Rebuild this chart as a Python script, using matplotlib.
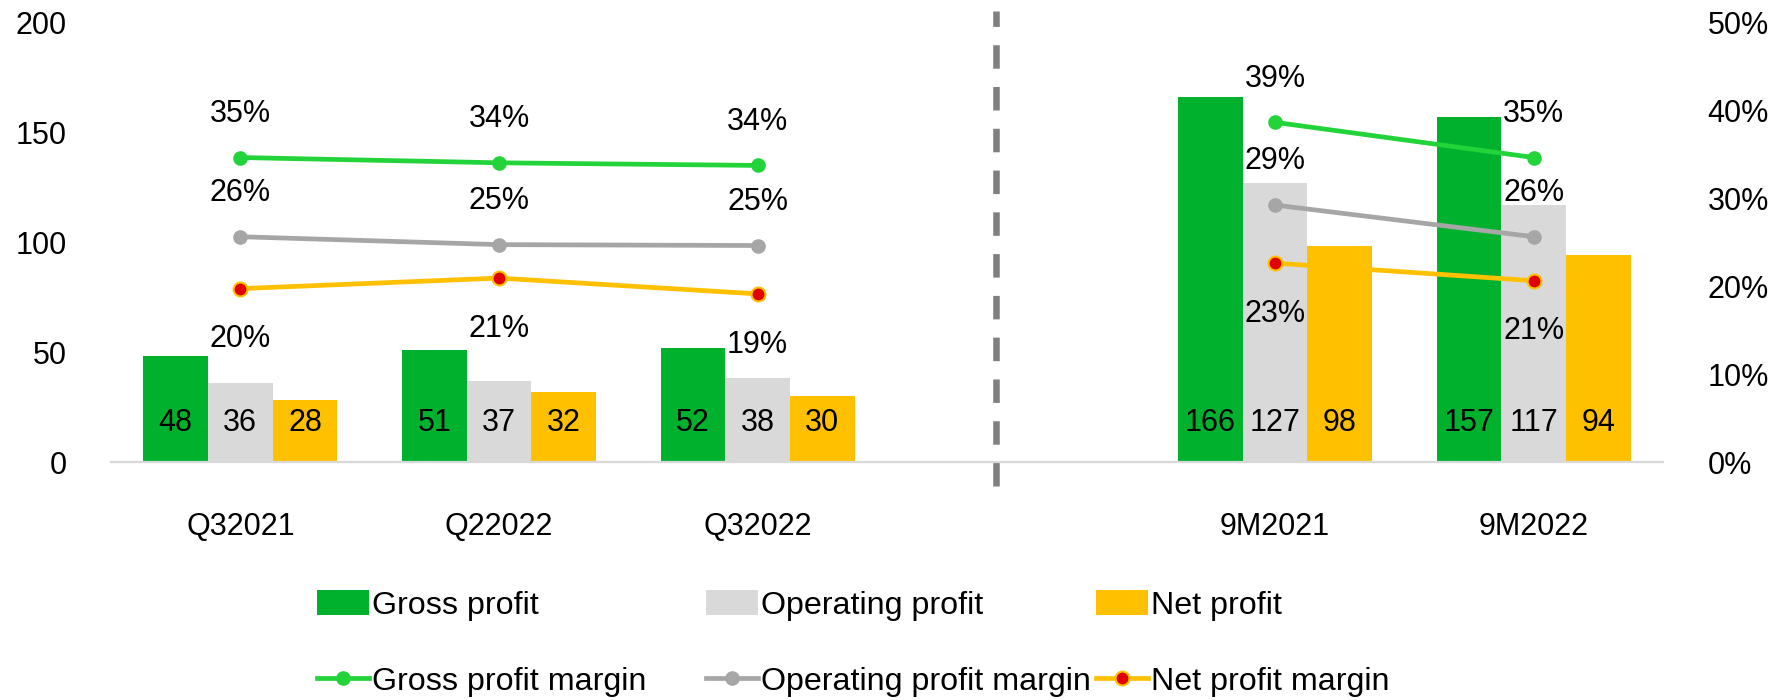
import numpy as np
import matplotlib
matplotlib.use("Agg")
import matplotlib.pyplot as plt
from matplotlib.patches import Patch
from matplotlib.lines import Line2D

plt.rcParams['font.family'] = ['Liberation Sans', 'DejaVu Sans']

# ---- data ----
categories = ["Q32021", "Q22022", "Q32022", "", "9M2021", "9M2022"]
gross_profit = [48, 51, 52, np.nan, 166, 157]
operating_profit = [36, 37, 38, np.nan, 127, 117]
net_profit = [28, 32, 30, np.nan, 98, 94]
gross_margin = [34.6, 34.0, 33.7, np.nan, 38.6, 34.6]
operating_margin = [25.6, 24.7, 24.6, np.nan, 29.2, 25.6]
net_margin = [19.7, 20.9, 19.1, np.nan, 22.6, 20.6]
left_ticks = [0, 50, 100, 150, 200]
right_ticks = [0, 10, 20, 30, 40, 50]

C_GREEN = '#00B12D'
C_GREY = '#D9D9D9'
C_YELLOW = '#FFC000'
C_GM = '#22D43A'
C_OM = '#A6A6A6'
C_NM_FACE = '#E00000'

FS = 22
LFS = 23.2
LW = 3.4

fig = plt.figure(figsize=(17.81, 7.0), dpi=100)
ax = fig.add_axes([111/1781, 1-462/700, (1663-111)/1781, (462-22)/700])
ax2 = ax.twinx()

x = np.arange(len(categories))
w = 0.25
for vals, off, col in [(gross_profit, -w, C_GREEN), (operating_profit, 0, C_GREY), (net_profit, w, C_YELLOW)]:
    ax.bar(x + off, vals, width=w, color=col, zorder=2)
    for xi, v in zip(x, vals):
        if not np.isnan(v):
            ax.text(xi + off, 17.6, f"{v:.0f}", ha='center', va='center', fontsize=FS, color='black', zorder=3)

ax.set_xlim(-0.5, len(categories) - 0.5)
ax.set_ylim(0, 200)
ax.set_yticks(left_ticks)
ax.set_yticklabels([str(t) for t in left_ticks])
ax.set_xticks(x)
ax.set_xticklabels(categories)
ax.tick_params(axis='both', length=0, labelsize=FS)
ax.tick_params(axis='x', pad=36)
ax.tick_params(axis='y', pad=32)
for s in ['top', 'right', 'left']:
    ax.spines[s].set_visible(False)
ax.spines['bottom'].set_color('#D9D9D9')
ax.spines['bottom'].set_linewidth(1.6)

# separator
ax.plot([2.92, 2.92], [-10.9, 205], color='#808080', lw=4.7,
        linestyle=(0, (3.6, 2.8)), clip_on=False, zorder=1, solid_capstyle='butt')

# margins
ax2.set_ylim(0, 50)
ax2.set_yticks(right_ticks)
ax2.set_yticklabels([f"{t}%" for t in right_ticks])
ax2.tick_params(axis='y', length=0, labelsize=FS, pad=32)
for s in ax2.spines.values():
    s.set_visible(False)

ax2.plot(x, gross_margin, color=C_GM, lw=LW, marker='o', ms=9.5, zorder=4)
ax2.plot(x, operating_margin, color=C_OM, lw=LW, marker='o', ms=9.5, zorder=4)
ax2.plot(x, net_margin, color=C_YELLOW, lw=LW, marker='o', ms=10,
         markerfacecolor=C_NM_FACE, markeredgecolor=C_YELLOW, markeredgewidth=1.5, zorder=4)

for vals, dy in [(gross_margin, 31.5), (operating_margin, 31.5), (net_margin, -36.5)]:
    for xi, v in zip(x, vals):
        if not np.isnan(v):
            ax2.annotate(f"{v:.0f}%", (xi, v), xytext=(0, dy), textcoords='offset points',
                         ha='center', va='center', fontsize=FS, zorder=5)

# legend (three columns)
cols = [
    (317, Patch(facecolor=C_GREEN), "Gross profit",
     Line2D([], [], color=C_GM, lw=LW, marker='o', ms=9.5), "Gross profit margin"),
    (706, Patch(facecolor=C_GREY), "Operating profit",
     Line2D([], [], color=C_OM, lw=LW, marker='o', ms=9.5), "Operating profit margin"),
    (1096, Patch(facecolor=C_YELLOW), "Net profit",
     Line2D([], [], color=C_YELLOW, lw=LW, marker='o', ms=10, markerfacecolor=C_NM_FACE,
            markeredgecolor=C_YELLOW, markeredgewidth=1.5), "Net profit margin"),
]
for xpx, h1, l1, h2, l2 in cols:
    fig.legend([h1, h2], [l1, l2], loc='upper left', bbox_to_anchor=(xpx/1781, 1-590/700),
               frameon=False, fontsize=LFS, handlelength=1.62, handleheight=0.84,
               handletextpad=0.08, labelspacing=1.4, borderpad=0, borderaxespad=0, numpoints=1)

fig.savefig("out.png", dpi=100)
